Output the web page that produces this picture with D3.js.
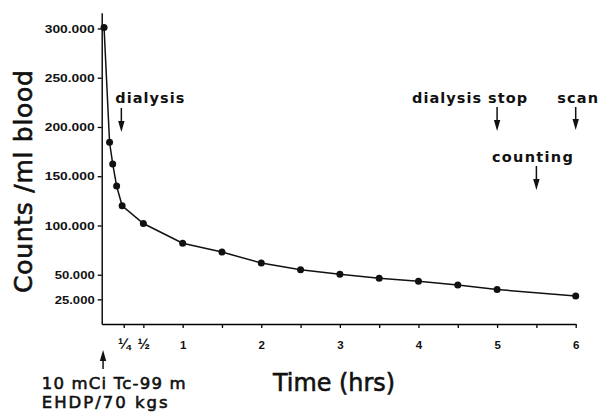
<!DOCTYPE html>
<html><head><meta charset="utf-8">
<script src="https://cdn.jsdelivr.net/npm/d3@7"></script>
<style>
html,body{margin:0;padding:0;background:#fff;}
svg{display:block;font-family:"DejaVu Sans",sans-serif;}
</style></head>
<body>
<script>
// Data (hours after injection, counts per ml blood)
const times  = [0, 0.07, 0.11, 0.16, 0.23, 0.5, 1, 1.5, 2, 2.5, 3, 3.5, 4, 4.5, 5, 6];
const counts = [301000, 184500, 162500, 140000, 120000, 102000, 82000, 73000, 62000, 55000, 50500, 46500, 43500, 39500, 35000, 28500];
const yTicks = [25000, 50000, 100000, 150000, 200000, 250000, 300000];
const xTicks = [0.25, 0.5, 1, 1.5, 2, 2.5, 3, 3.5, 4, 4.5, 5, 5.5, 6];
const xTickLabels = {0.25:"\u00BC", 0.5:"\u00BD", 1:"1", 2:"2", 3:"3", 4:"4", 5:"5", 6:"6"};
const annotLabels = ["dialysis", "dialysis stop", "counting", "scan"];
const annotTimes  = [0.22, 5, 5.5, 6];
const injectLines = ["10 mCi Tc-99 m", "EHDP/70 kgs"];

const W = 599, H = 412;
const svg = d3.select("body").append("svg").attr("width", W).attr("height", H);

const x = d3.scaleLinear().domain([-0.03, 6]).range([101.7, 575.7]);
const y = d3.scaleLinear().domain([0, 316000]).range([324, 12.7]);

// Y axis
const fmtY = v => d3.format(",")(v).replace(",", ".");
const yAxis = d3.axisLeft(y).tickValues(yTicks).tickSize(4).tickSizeOuter(0).tickPadding(3)
  .tickFormat(fmtY);
const gy = svg.append("g").attr("transform", `translate(${x(-0.03)},0)`).call(yAxis);
gy.select(".domain").attr("stroke-width", 1.4);
gy.selectAll(".tick line").attr("stroke-width", 1.3);
gy.selectAll(".tick text").attr("font-size", 11.5).attr("font-weight", "bold").attr("fill", "#111")
  .attr("textLength", d => d >= 100000 ? 50 : 40).attr("lengthAdjust", "spacingAndGlyphs");

// X axis
const xAxis = d3.axisBottom(x).tickValues(xTicks).tickSize(4).tickSizeOuter(0).tickPadding(13)
  .tickFormat(d => xTickLabels[d] || "");
const gx = svg.append("g").attr("transform", `translate(0,${y(0)})`).call(xAxis);
gx.select(".domain").attr("stroke-width", 1.4);
gx.selectAll(".tick line").attr("stroke-width", 1.3);
gx.selectAll(".tick text").attr("font-weight", "bold").attr("fill", "#111")
  .attr("font-size", d => d < 1 ? 15 : 11.5)
  .attr("dy", d => d < 1 ? "0.5em" : "0.71em");

// Line + points
const pts = times.map((t, i) => [t, counts[i]]);
svg.append("path").datum(pts)
  .attr("fill", "none").attr("stroke", "#111").attr("stroke-width", 1.5)
  .attr("d", d3.line().x(d => x(d[0])).y(d => y(d[1])));
svg.selectAll("circle.pt").data(pts).join("circle").attr("class", "pt")
  .attr("cx", d => x(d[0])).attr("cy", d => y(d[1])).attr("r", 3.5).attr("fill", "#111");

// Axis titles
svg.append("text")
  .attr("transform", `translate(31.5,${y(0) - 31}) rotate(-90)`)
  .attr("font-size", 25).attr("fill", "#111").attr("stroke", "#111").attr("stroke-width", 0.6)
  .attr("textLength", 223).attr("lengthAdjust", "spacing")
  .text("Counts /ml blood");
svg.append("text")
  .attr("x", 273).attr("y", 391)
  .attr("font-size", 24).attr("fill", "#111").attr("stroke", "#111").attr("stroke-width", 0.6)
  .attr("textLength", 122).attr("lengthAdjust", "spacingAndGlyphs")
  .text("Time (hrs)");

// Down arrows with labels
function downArrow(cx, y0, y1) {
  svg.append("line").attr("x1", cx).attr("x2", cx).attr("y1", y0).attr("y2", y1 - 8)
    .attr("stroke", "#111").attr("stroke-width", 1.5);
  svg.append("path").attr("d", `M${cx - 3.2},${y1 - 11} L${cx + 3.2},${y1 - 11} L${cx},${y1} Z`).attr("fill", "#111");
}
const annotLayout = [
  {dx: -6, anchor: "start", len: 69, base: 102.5, a0: 108, a1: 132},
  {dx: 30, anchor: "end", len: 115, base: 102.5, a0: 107, a1: 131},
  {dx: -4, anchor: "middle", len: 81, base: 161.7, a0: 166, a1: 190},
  {dx: 2, anchor: "middle", len: 41, base: 102.5, a0: 107, a1: 130}
];
annotLabels.forEach((lab, i) => {
  const L = annotLayout[i], cx = x(annotTimes[i]);
  svg.append("text").attr("x", cx + L.dx).attr("y", L.base)
    .attr("text-anchor", L.anchor).attr("font-size", 14.5).attr("font-weight", "bold").attr("fill", "#111")
    .attr("textLength", L.len).attr("lengthAdjust", "spacing").text(lab);
  downArrow(cx, L.a0, L.a1);
});

// Injection arrow (up) and label
const ix = x(0) - 1;
svg.append("line").attr("x1", ix).attr("x2", ix).attr("y1", 369).attr("y2", 358)
  .attr("stroke", "#111").attr("stroke-width", 1.5);
svg.append("path").attr("d", `M${ix - 3.2},${361} L${ix + 3.2},${361} L${ix},${350} Z`).attr("fill", "#111");
const injLens = [144, 126];
injectLines.forEach((s, i) => {
  svg.append("text").attr("x", 41.7).attr("y", 388.5 + i * 19)
    .attr("font-size", 16.5).attr("fill", "#111").attr("stroke", "#111").attr("stroke-width", 0.6)
    .attr("textLength", injLens[i]).attr("lengthAdjust", "spacing").text(s);
});
</script>
</body></html>
